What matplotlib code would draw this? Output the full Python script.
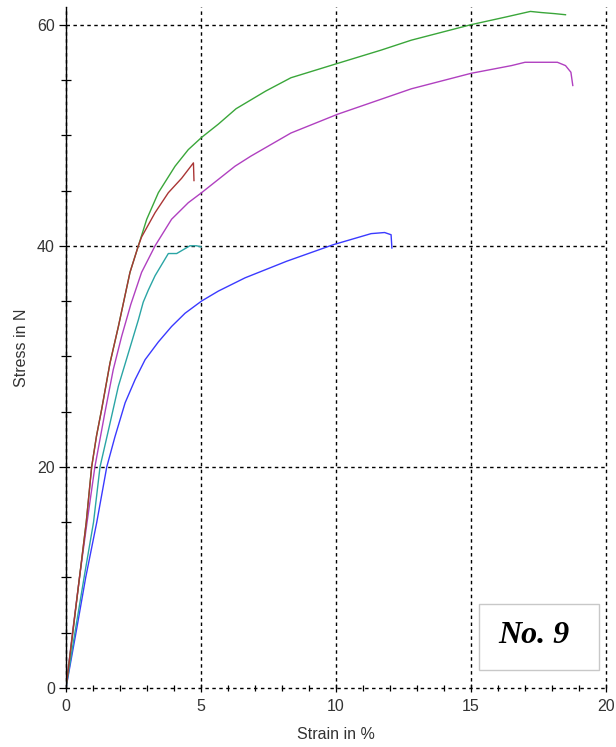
import numpy as np
import matplotlib.pyplot as plt
from matplotlib.patches import Rectangle
from matplotlib.ticker import MultipleLocator

plt.rcParams['font.family'] = ['Liberation Sans', 'DejaVu Sans']

# stress-strain curves (strain in %, stress in N)
green_x = [0, 0.25, 0.5, 0.75, 0.95, 1.13, 1.32, 1.63, 1.94, 2.37, 2.68, 2.99, 3.42, 4.04,
           4.53, 5.02, 5.64, 6.3, 7.4, 8.33, 10.06, 11.67, 12.79, 15.0, 16.3, 17.2, 17.6,
           18.1, 18.5]
green_y = [0, 5, 10, 15, 20, 22.8, 25.2, 29.4, 32.7, 37.6, 40.0, 42.4, 44.8, 47.2,
           48.7, 49.8, 51.0, 52.4, 54.0, 55.2, 56.5, 57.7, 58.6, 60.0, 60.7, 61.2, 61.1,
           61.0, 60.9]

red_x = [0, 0.25, 0.5, 0.75, 0.95, 1.13, 1.32, 1.63, 1.94, 2.37, 2.68, 2.80, 3.30, 3.79,
         4.28, 4.72, 4.74]
red_y = [0, 5, 10, 15, 20, 22.8, 25.2, 29.4, 32.7, 37.6, 40.0, 40.8, 43.0, 44.8,
         46.1, 47.5, 45.9]

purple_x = [0, 0.24, 0.5, 0.78, 1.07, 1.44, 1.75, 2.06, 2.40, 2.80, 3.30, 3.91, 4.53,
            5.02, 5.64, 6.26, 6.84, 8.33, 10.06, 12.79, 15.0, 16.5, 17.0, 18.2, 18.5,
            18.7, 18.77]
purple_y = [0, 5, 10, 15, 20, 24.9, 28.8, 31.8, 34.7, 37.6, 40.0, 42.4, 43.9,
            44.8, 46.0, 47.2, 48.1, 50.2, 51.9, 54.2, 55.6, 56.3, 56.6, 56.6, 56.3,
            55.7, 54.5]

cyan_x = [0, 0.33, 0.67, 1.02, 1.26, 1.57, 1.94, 2.31, 2.68, 2.86, 3.05, 3.30, 3.79,
          4.10, 4.59, 4.84, 5.0]
cyan_y = [0, 5, 10, 15, 20, 23.3, 27.3, 30.3, 33.3, 34.9, 36.0, 37.3, 39.3,
          39.3, 40.0, 40.0, 39.9]

blue_x = [0, 0.37, 0.73, 1.14, 1.51, 1.81, 2.19, 2.56, 2.93, 3.42, 3.91, 4.41, 5.02,
          5.64, 6.63, 8.17, 9.9, 11.3, 11.8, 12.04, 12.07]
blue_y = [0, 5, 10, 15, 20, 22.7, 25.8, 27.9, 29.7, 31.3, 32.7, 33.9, 35.0,
          35.9, 37.1, 38.6, 40.1, 41.1, 41.2, 41.0, 39.8]

W, H = 616, 747
fig = plt.figure(figsize=(W / 100, H / 100), dpi=100)
ax = fig.add_axes([66 / W, 1 - 688 / H, 540 / W, 681 / H])

lw = 1.0
ax.plot(blue_x, blue_y, color='#3a3aff', lw=lw)
ax.plot(purple_x, purple_y, color='#b040c0', lw=lw)
ax.plot(cyan_x, cyan_y, color='#2aa5a5', lw=lw)
ax.plot(green_x, green_y, color='#3aa63a', lw=lw)
ax.plot(red_x, red_y, color='#aa3535', lw=lw)

ax.set_xlim(0, 20)
ax.set_ylim(0, 61.6)
ax.xaxis.set_major_locator(MultipleLocator(5))
ax.xaxis.set_minor_locator(MultipleLocator(1))
ax.yaxis.set_major_locator(MultipleLocator(20))
ax.yaxis.set_minor_locator(MultipleLocator(5))

for s in ['top', 'right', 'bottom']:
    ax.spines[s].set_visible(False)
ax.spines['left'].set_linewidth(1.0)

ax.grid(True, which='major', color='k', linestyle=(0, (2.5, 2.5)), linewidth=1.0)
for gl in ax.get_xgridlines() + ax.get_ygridlines():
    gl.set_clip_on(False)

ax.tick_params(axis='x', which='major', direction='inout', length=6, width=0.9,
               labelsize=11.5, labelcolor='#333333', pad=5)
ax.tick_params(axis='x', which='minor', direction='inout', length=5, width=0.9)
ax.tick_params(axis='y', which='major', direction='out', length=5, width=0.9,
               labelsize=11.5, labelcolor='#333333', pad=3)
ax.tick_params(axis='y', which='minor', direction='inout', length=6.5, width=0.9)

ax.set_xlabel('Strain in %', fontsize=11.5, color='#333333', labelpad=9)
ax.set_ylabel('Stress in N', fontsize=11.5, color='#333333', labelpad=6)

# sample label box
fig.patches.append(Rectangle((479 / W, 1 - 670 / H), 120 / W, 66 / H,
                             transform=fig.transFigure, facecolor='white',
                             edgecolor='#c8c8c8', linewidth=1.0))
fig.text(534 / W, 1 - 643 / H, 'No. 9', fontsize=23, family='Liberation Serif',
         weight='bold', style='italic', ha='center', va='baseline')

fig.savefig('out.png', dpi=100)
